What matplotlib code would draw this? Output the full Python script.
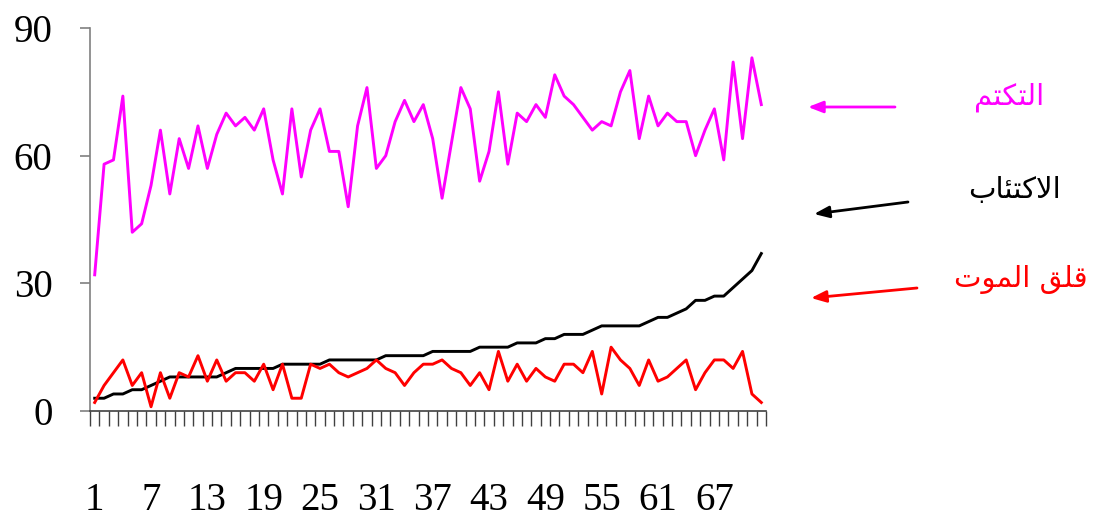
import matplotlib
matplotlib.use("Agg")
import matplotlib.pyplot as plt
import numpy as np

# values (72 cases)
secrecy = [32, 58, 59, 74, 42, 44, 53, 66, 51, 64, 57, 67, 57, 65, 70, 67, 69, 66,
           71, 59, 51, 71, 55, 66, 71, 61, 61, 48, 67, 76, 57, 60, 68, 73, 68, 72,
           64, 50, 63, 76, 71, 54, 61, 75, 58, 70, 68, 72, 69, 79, 74, 72, 69, 66,
           68, 67, 75, 80, 64, 74, 67, 70, 68, 68, 60, 66, 71, 59, 82, 64, 83, 72]
depression = [3, 3, 4, 4, 5, 5, 6, 7, 8, 8, 8, 8, 8, 8, 9, 10, 10, 10,
              10, 10, 11, 11, 11, 11, 11, 12, 12, 12, 12, 12, 12, 13, 13, 13, 13, 13,
              14, 14, 14, 14, 14, 15, 15, 15, 15, 16, 16, 16, 17, 17, 18, 18, 18, 19,
              20, 20, 20, 20, 20, 21, 22, 22, 23, 24, 26, 26, 27, 27, 29, 31, 33, 37]
death_anxiety = [2, 6, 9, 12, 6, 9, 1, 9, 3, 9, 8, 13, 7, 12, 7, 9, 9, 7,
                 11, 5, 11, 3, 3, 11, 10, 11, 9, 8, 9, 10, 12, 10, 9, 6, 9, 11,
                 11, 12, 10, 9, 6, 9, 5, 14, 7, 11, 7, 10, 8, 7, 11, 11, 9, 14,
                 4, 15, 12, 10, 6, 12, 7, 8, 10, 12, 5, 9, 12, 12, 10, 14, 4, 2]
x_labels = ["1", "7", "13", "19", "25", "31", "37", "43", "49", "55", "61", "67"]
y_ticks = [0, 30, 60, 90]

label_secrecy = "التكتم"
label_depression = "الاكتئاب"
label_anxiety = "قلق الموت"

# very small arabic shaper (matplotlib has no shaping / bidi)
FORMS = {  # iso, fin, ini, med
    "ا": ("\uFE8D", "\uFE8E", None, None),
    "ب": ("\uFE8F", "\uFE90", "\uFE91", "\uFE92"),
    "ت": ("\uFE95", "\uFE96", "\uFE97", "\uFE98"),
    "ئ": ("\uFE89", "\uFE8A", "\uFE8B", "\uFE8C"),
    "ق": ("\uFED5", "\uFED6", "\uFED7", "\uFED8"),
    "ك": ("\uFED9", "\uFEDA", "\uFEDB", "\uFEDC"),
    "ل": ("\uFEDD", "\uFEDE", "\uFEDF", "\uFEE0"),
    "م": ("\uFEE1", "\uFEE2", "\uFEE3", "\uFEE4"),
    "و": ("\uFEED", "\uFEEE", None, None),
    "لا": ("\uFEFB", "\uFEFC", None, None),
}


def shape(s):
    units = []
    i = 0
    while i < len(s):
        if s[i] == "ل" and i + 1 < len(s) and s[i + 1] == "ا":
            units.append("لا")
            i += 2
        else:
            units.append(s[i])
            i += 1
    out = []
    for k, u in enumerate(units):
        if u not in FORMS:
            out.append(u)
            continue
        prev = units[k - 1] if k > 0 else None
        nxt = units[k + 1] if k + 1 < len(units) else None
        jp = prev in FORMS and FORMS[prev][2] is not None
        jn = nxt in FORMS and FORMS[u][2] is not None
        iso, fin, ini, med = FORMS[u]
        if jp and jn:
            out.append(med)
        elif jp:
            out.append(fin)
        elif jn:
            out.append(ini)
        else:
            out.append(iso)
    return "".join(out)[::-1]


W, H = 1094, 521
fig = plt.figure(figsize=(W / 100, H / 100), dpi=100)
ax = fig.add_axes([90 / W, 1 - 411 / H, 676 / W, 383 / H])

x = np.arange(1, len(secrecy) + 1)
ax.plot(x, secrecy, color="#FF00FF", linewidth=2.1)
ax.plot(x, depression, color="black", linewidth=2.1)
ax.plot(x, death_anxiety, color="#FF0000", linewidth=2.1)

ax.set_xlim(0.5, len(x) + 0.5)
ax.set_ylim(0, 90)

for s in ["top", "right"]:
    ax.spines[s].set_visible(False)
ax.spines["left"].set_color("#808080")
ax.spines["left"].set_linewidth(1.2)
ax.spines["bottom"].set_color("#404040")
ax.spines["bottom"].set_linewidth(1.2)

serif = "Liberation Serif"
ax.set_yticks(y_ticks)
ax.set_yticklabels([str(v) for v in y_ticks], fontfamily=serif, fontsize=28)
ax.tick_params(axis="y", length=7, width=1.2, color="#808080", pad=20)

# category boundaries get the ticks, labels sit at centres
ax.set_xticks(np.arange(0.5, len(x) + 1, 1), minor=True)
ax.set_xticks(np.arange(1, len(x) + 1, 6))
ax.set_xticklabels(x_labels, fontfamily=serif, fontsize=28)
ax.tick_params(axis="x", which="minor", length=11, width=1, color="#404040")
ax.tick_params(axis="x", which="major", length=0, pad=51)


def fx(px):
    return px / W


def fy(py):
    return 1 - py / H


notes = [
    (label_secrecy, "#FF00FF", (1009, 97), (895, 107), (808, 107)),
    (label_depression, "black", (1015, 190), (908, 202), (814, 214)),
    (label_anxiety, "#FF0000", (1021, 280), (917, 288), (811, 298)),
]
for text, col, tpos, tail, tip in notes:
    fig.text(fx(tpos[0]), fy(tpos[1]), shape(text), color=col, fontsize=21,
             fontfamily="DejaVu Sans", ha="center", va="center")
    ax.annotate("", xy=(fx(tip[0]), fy(tip[1])), xycoords="figure fraction",
                xytext=(fx(tail[0]), fy(tail[1])), textcoords="figure fraction",
                arrowprops=dict(arrowstyle="-|>,head_length=0.9,head_width=0.35",
                                color=col, lw=2, shrinkA=0, shrinkB=0))

fig.savefig("out.png", dpi=100)
